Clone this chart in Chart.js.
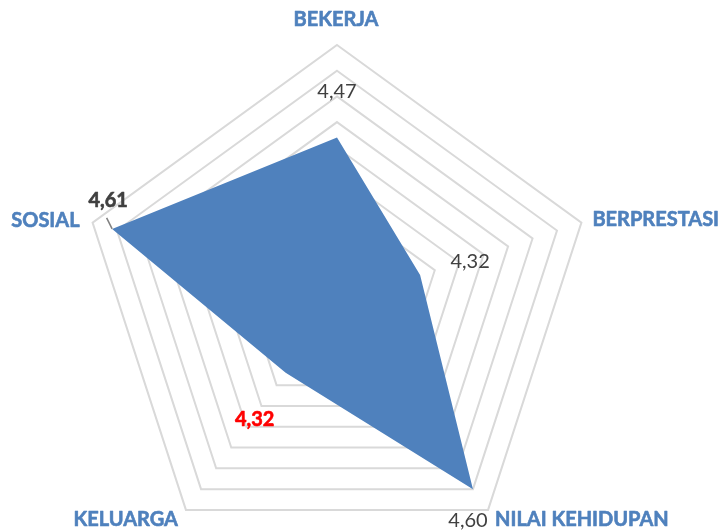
<!DOCTYPE html>
<html>
<head>
<meta charset="utf-8">
<script src="https://cdn.jsdelivr.net/npm/chart.js@4.4.0/dist/chart.umd.min.js"></script>
<style>
  html, body { margin: 0; padding: 0; background: #fff; overflow: hidden; }
  #wrap { width: 723px; height: 560px; }
</style>
</head>
<body>
<div id="wrap"><canvas id="radar" width="723" height="560"></canvas></div>
<script>
const categories = ['BEKERJA', 'BERPRESTASI', 'NILAI KEHIDUPAN', 'KELUARGA', 'SOSIAL'];
const scores = [4.47, 4.32, 4.60, 4.32, 4.61];
const scaleMin = 4.15;
const scaleMax = 4.65;
const scaleStep = 0.05;

(function () {
  const BLUE = '#4F81BD';
  const FONT = 'Lato, "Open Sans", sans-serif';

  // where each value label sits relative to its point (baseline), and how it looks
  const valueLabelStyle = [
    { dx: 0, dy: -40, color: '#404040', bold: false },
    { dx: 50, dy: -7, color: '#404040', bold: false },
    { dx: -5, dy: 38, color: '#404040', bold: false },
    { dx: -31, dy: 53, color: '#FF0000', bold: true },
    { dx: -4, dy: -22, color: '#404040', bold: true },
  ];
  // category labels relative to the outer ring vertex
  const catLabelStyle = [
    { dx: -1, dy: -19, align: 'center' },
    { dx: 11, dy: 3, align: 'left' },
    { dx: 7, dy: 16, align: 'left' },
    { dx: -8, dy: 16, align: 'right' },
    { dx: -13, dy: 4, align: 'right' },
  ];

  const fmt = v => v.toFixed(2).replace('.', ',');

  // bold text a touch heavier, closer to the original look
  function boldText(ctx, text, x, y, color) {
    ctx.fillStyle = color;
    ctx.strokeStyle = color;
    ctx.lineWidth = 0.6;
    ctx.lineJoin = 'round';
    ctx.fillText(text, x, y);
    ctx.strokeText(text, x, y);
  }

  const labelPlugin = {
    id: 'radarLabels',
    afterDatasetsDraw(chart) {
      const scale = chart.scales.r;
      const ctx = chart.ctx;
      ctx.save();
      ctx.textBaseline = 'alphabetic';

      // category names
      ctx.font = `bold 20px ${FONT}`;
      categories.forEach((name, i) => {
        const p = scale.getPointPositionForValue(i, scaleMax);
        const s = catLabelStyle[i];
        ctx.textAlign = s.align;
        boldText(ctx, name, p.x + s.dx, p.y + s.dy, BLUE);
      });

      // value labels
      ctx.textAlign = 'center';
      scores.forEach((v, i) => {
        const p = scale.getPointPositionForValue(i, v);
        const s = valueLabelStyle[i];
        ctx.font = `${s.bold ? 'bold ' : ''}20px ${FONT}`;
        if (s.bold) {
          boldText(ctx, fmt(v), p.x + s.dx, p.y + s.dy, s.color);
        } else {
          ctx.fillStyle = s.color;
          ctx.fillText(fmt(v), p.x + s.dx, p.y + s.dy);
        }
      });

      // little leader line on SOSIAL
      const ps = scale.getPointPositionForValue(4, scores[4]);
      ctx.strokeStyle = '#808080';
      ctx.lineWidth = 1.5;
      ctx.beginPath();
      ctx.moveTo(ps.x - 5.5, ps.y - 11);
      ctx.lineTo(ps.x, ps.y);
      ctx.stroke();

      ctx.restore();
    }
  };

  new Chart(document.getElementById('radar'), {
    type: 'radar',
    data: {
      labels: categories,
      datasets: [{
        label: 'Skor',
        data: scores,
        backgroundColor: BLUE,
        borderColor: BLUE,
        borderWidth: 0,
        pointRadius: 0,
        fill: 'start'
      }]
    },
    options: {
      responsive: false,
      animation: false,
      layout: { padding: { left: 80, right: 129, top: 45, bottom: 1 } },
      plugins: { legend: { display: false }, tooltip: { enabled: false } },
      scales: {
        r: {
          min: scaleMin,
          max: scaleMax,
          ticks: { display: false, stepSize: scaleStep },
          grid: { color: '#D9D9D9', lineWidth: 2 },
          angleLines: { display: false },
          pointLabels: { display: false }
        }
      }
    },
    plugins: [labelPlugin]
  });
})();
</script>
</body>
</html>
